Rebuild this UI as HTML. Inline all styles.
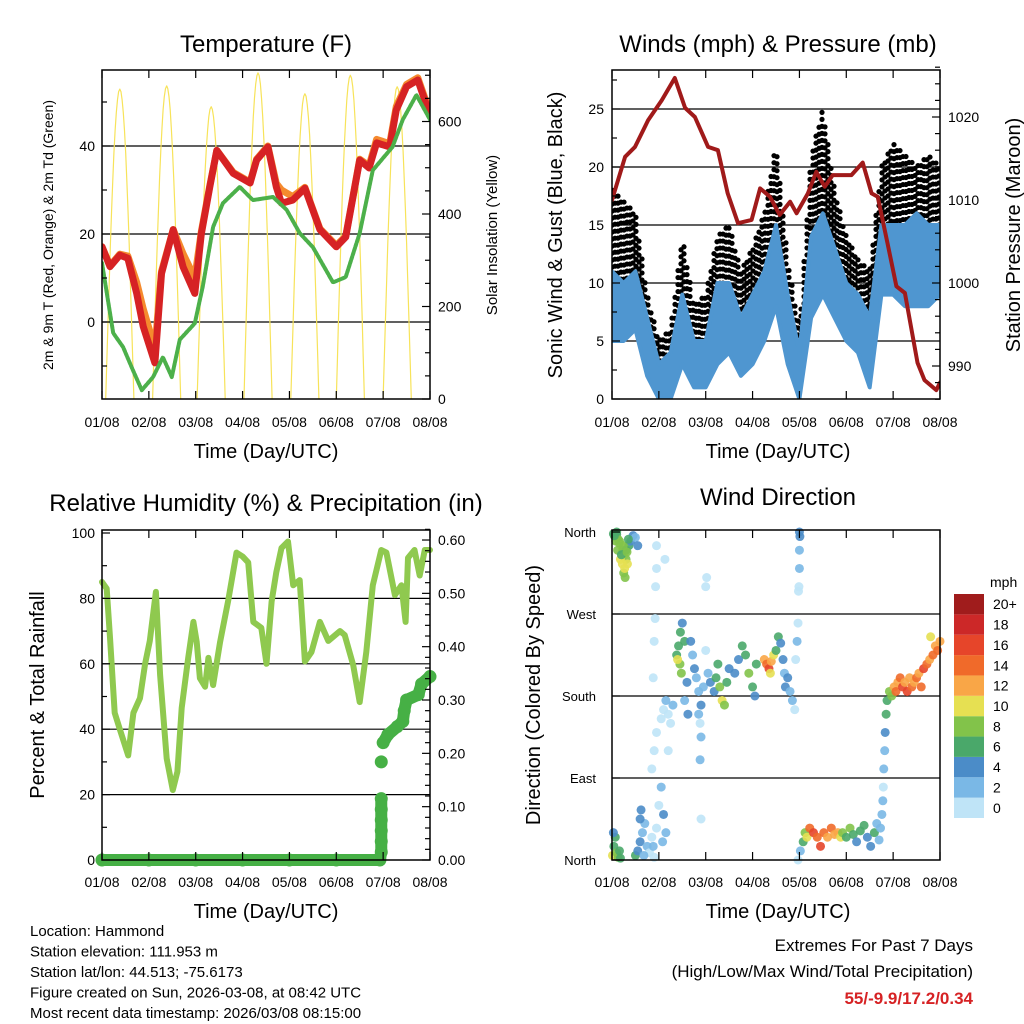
<!DOCTYPE html>
<html><head><meta charset="utf-8"><style>
html,body{margin:0;padding:0;background:#fff;}
svg{display:block;font-family:"Liberation Sans",sans-serif;}
</style></head><body>
<svg id="fig" width="1024" height="1024" viewBox="0 0 1024 1024"></svg>
<script>
// ---------- DATA ----------
const tDays=[0,0.17,0.38,0.55,0.74,0.88,1.13,1.27,1.52,1.73,1.98,2.12,2.3,2.45,2.8,3.16,3.3,3.54,3.72,3.83,4.07,4.33,4.65,5.0,5.2,5.5,5.7,5.86,6.14,6.28,6.5,6.74,7.0];
const tRed=[17.1,12.6,15.2,14.5,6.5,-1,-9.3,11,21,12.5,6.5,20,30.7,39,33.8,31.6,36.8,39.8,30.7,27,27.7,30.4,21,17.1,19.3,36.8,35,40.7,39.8,48.2,53.5,55,47];
const tOrange=[17.1,12.8,15.4,15,9,3,-6,11.5,21,15.5,10,20.5,31,39,34,31.8,37,40,31.5,30,28.5,30.6,21.2,17.4,19.5,37,35.5,41.5,40.5,49,54,55.5,47.5];
const tdDays=[0,0.24,0.45,0.63,0.85,1.09,1.3,1.49,1.66,1.98,2.15,2.37,2.58,2.94,3.22,3.65,3.94,4.22,4.5,4.93,5.2,5.5,5.78,6.2,6.42,6.71,7.0];
const tDew=[13.4,-2.5,-5.7,-10.2,-15.5,-12.5,-8,-12.5,-4,-0.3,8,21.6,27,30.7,27.7,28.4,25.5,20.2,17,9,10.2,20.2,34.5,39.8,46,51.6,46];
const solarPeakDay=[0.38,1.38,2.33,3.33,4.33,5.3,6.3];
const solarPeakVal=[670,677,632,705,660,700,675];
const windDays=[0,0.25,0.5,0.75,1,1.25,1.5,1.75,2,2.25,2.5,2.75,3,3.25,3.5,3.75,4,4.25,4.5,4.75,5,5.25,5.5,5.75,6,6.25,6.5,6.75,7];
const windLo=[5,5,6,2,0,0,3,1,1,3,4,2,3,5,8,3,0,7,9,7,5,4,1,9,9,8,8,8,9];
const windHi=[11,10,11,7,3,4,9,5,5,10,10,7,9,11,15,9,4,14,16,13,10,9,7,15,15,15,16,15,15];
const gustLo=[8,10,9,3,1,2,6,3,3,6,7,4,6,8,12,5,1,11,14,10,8,6,3,13,13,13,12,12,13];
const gustHi=[18,17,16,9,5,6,14,8,9,14,15,11,13,16,22,12,6,21,25,18,14,12,11,20,22,21,20,21,20];
const presDays=[0,0.28,0.49,0.77,1.06,1.34,1.56,1.77,2.05,2.26,2.47,2.69,2.98,3.16,3.37,3.58,3.8,3.94,4.18,4.36,4.54,4.71,5.11,5.35,5.54,5.67,5.88,6.07,6.25,6.52,6.67,6.92,7.0];
const presVal=[1010,1015.2,1016.4,1019.6,1022,1024.7,1021.1,1020,1016.4,1016,1010.8,1007.2,1007.6,1011.4,1010.4,1008.2,1009.8,1008.4,1010.8,1013.4,1011.6,1013,1013,1014.5,1010.8,1010.4,1004.8,999.6,998.8,990.4,988.3,987.1,988];
const rhDays=[0,0.1,0.17,0.27,0.38,0.56,0.67,0.81,0.92,1.02,1.15,1.24,1.38,1.51,1.61,1.7,1.84,1.95,2.02,2.09,2.2,2.27,2.37,2.52,2.69,2.87,3.0,3.12,3.23,3.4,3.51,3.62,3.72,3.83,3.97,4.08,4.22,4.33,4.47,4.65,4.83,5.08,5.18,5.36,5.5,5.64,5.78,5.96,6.07,6.25,6.39,6.48,6.53,6.67,6.78,6.89,7.0];
const rhVal=[85,83,68,45,40,32,45,49.5,60,67,82,56.6,31,21.4,27,46.5,61.8,72.8,66.7,55.6,53,61.8,53.5,66.7,79,94,92.8,91,72.8,71,60,79,88,95.4,97.4,84,85.6,60.7,63.6,72.8,67,70,68.8,59.6,48.3,63.6,84,94.8,94,81,84,72.8,92.4,94.8,87,94.8,94.8];
const precipDays=[0,1,2,3,4,5,5.93,5.96,5.96,5.96,5.96,5.96,5.96,5.96,6.0,6.1,6.3,6.42,6.45,6.5,6.75,6.82,7.0];
const precipVal=[0,0,0,0,0,0,0,0.015,0.035,0.055,0.075,0.095,0.115,0.184,0.22,0.235,0.25,0.26,0.28,0.3,0.31,0.33,0.344];
const dirDays=[0.03,0.06,0.1,0.13,0.16,0.2,0.23,0.26,0.3,0.33,0.36,0.4,0.45,0.5,0.25,0.28,0.22,0.3,0.27,0.1,0.55,0.08,0.12,0.18,0.2,0.24,0.32,0.35,0.15,0.05,
0.01,0.04,0.07,0.1,0.13,0.16,0.03,0.18,
0.5,0.55,0.6,0.65,0.7,0.75,0.8,0.85,0.9,0.95,1.0,1.05,1.1,1.15,0.68,0.88,1.08,0.6,0.62,
0.85,0.9,0.95,1.05,1.1,1.15,1.2,1.25,0.88,0.9,0.92,0.93,0.95,0.95,1.13,1.2,1.3,
1.38,1.42,1.46,1.5,1.55,1.45,1.48,1.6,1.55,1.62,1.4,
1.68,1.72,1.76,1.8,1.85,1.9,1.95,1.85,1.88,1.9,1.88,1.9,2.0,2.0,2.02,2.05,2.1,
2.18,2.22,2.26,2.3,2.35,2.4,2.45,2.5,
2.62,2.7,2.78,2.85,2.92,3.0,3.05,3.08,
3.25,3.3,3.35,3.4,3.45,3.38,
3.5,3.55,3.6,3.65,3.68,3.7,
3.75,3.8,3.85,3.9,3.92,3.95,3.97,3.98,4.0,4.0,4.01,3.99,4.0,
3.97,4.02,4.08,4.12,4.16,
4.22,4.3,4.38,4.45,4.52,4.6,4.68,4.75,4.82,4.88,
4.92,5.0,5.08,5.15,5.22,5.3,5.38,5.45,5.52,5.6,5.65,5.7,5.73,
5.76,5.78,5.79,5.8,5.82,5.83,5.85,
5.87,5.92,5.97,6.02,6.06,6.1,
6.15,6.2,6.25,6.3,6.35,6.4,6.45,6.5,6.55,6.6,6.65,
6.72,6.78,6.85,6.9,6.95,7.0,6.8];
const dirDeg=[358,355,357,352,350,345,340,335,330,325,345,350,356,354,315,310,325,340,320,360,345,350,340,330,335,345,338,352,348,356,
5,15,25,8,3,10,30,2,
5,10,20,30,40,15,8,25,3,35,60,80,50,30,5,15,20,45,55,
100,120,140,155,165,175,160,150,200,240,265,300,320,345,330,120,170,
225,235,250,260,240,215,205,195,175,160,220,
240,225,210,200,185,170,190,160,150,135,110,45,230,300,310,205,195,
185,200,215,190,175,170,195,210,
205,220,235,225,205,190,180,215,
220,215,210,218,225,205,
230,245,238,220,205,190,
200,185,175,165,220,240,260,295,320,340,355,300,360,
0,10,20,30,25,
35,30,25,15,30,25,35,28,30,25,
30,25,35,28,20,32,38,25,15,30,40,22,35,
50,65,80,100,120,140,160,
175,185,180,190,185,195,
200,190,195,185,200,190,195,200,205,190,210,
215,220,225,235,230,240,245];
const dirSpeed=[7,8,6,9,8,10,9,10,8,10,7,5,4,3,9,8,10,6,10,7,4,8,9,10,7,8,9,6,8,7,
10,7,6,8,9,7,5,6,
6,4,4,3,3,2,1,1,0,1,1,2,4,3,3,2,3,4,4,
1,1,0,1,1,2,1,1,1,1,1,0,1,1,0,0,2,
7,6,7,5,6,8,9,4,3,4,10,
4,3,4,2,3,4,3,2,1,2,2,1,1,1,0,3,4,
5,7,6,9,10,8,6,5,
4,5,7,6,8,7,4,6,
12,14,16,13,11,10,
6,7,5,4,3,4,
4,2,3,1,1,2,1,1,3,3,4,0,4,
0,3,6,9,10,
14,16,14,17,14,12,14,13,12,10,
8,7,8,6,5,6,7,5,4,6,3,2,2,
2,3,1,3,3,4,6,
7,8,9,12,14,12,
14,16,13,17,12,14,12,14,13,15,16,
14,13,14,12,14,13,10];
const dayLabels=["01/08","02/08","03/08","04/08","05/08","06/08","07/08","08/08"];
const speedLabels=["0","2","4","6","8","10","12","14","16","18","20+"];
const speedColors=["#bfe4f7","#7ab8e6","#4b8cc8","#4aa86a","#82c34a","#e6e052","#f9a647","#f06a2a","#e6452a","#cc2828","#a01c1c"];

// ---------- AXES ----------
const NS="http://www.w3.org/2000/svg";
const svg=document.getElementById('fig');
function mk(tag,attrs,parent){const e=document.createElementNS(NS,tag);for(const k in attrs)e.setAttribute(k,attrs[k]);(parent||svg).appendChild(e);return e;}
const xL=d=>102+d*328/7, xR=d=>612+d*328/7;
const tY=v=>322-v*4.4, solY=v=>399-v*0.4625;
const wY=v=>399-v*11.6, pY=p=>283-(p-1000)*8.3;
const rhY=v=>860-v*3.27, prY=v=>860-v*533.3;
const dY=v=>860-v*328/360;
function interp(xs,ys,d){for(let i=1;i<xs.length;i++){if(d<=xs[i]){const f=(d-xs[i-1])/(xs[i]-xs[i-1]);return ys[i-1]+f*(ys[i]-ys[i-1]);}}return ys[ys.length-1];}

function panel(name){
  const g=mk('g',{});
  
  
  return g;
}
function txt(g,x,y,s,size,anchor,extra){
  const t=mk('text',Object.assign({x:x,y:y,'font-size':size,'text-anchor':anchor||'middle',fill:'#000'},extra||{}),g);
  t.textContent=s;return t;
}
function frame(g,x0,y0,x1,y1){
  const r=mk('rect',{x:x0,y:y0,width:x1-x0,height:y1-y0,fill:'none',stroke:'#000','stroke-width':1.5},g);
  
  
}
function grid(g,x0,x1,y){const l=mk('line',{x1:x0,x2:x1,y1:y,y2:y,stroke:'#000','stroke-width':1.2},g);
  
  }
function tickL(g,x,y,len){const l=mk('line',{x1:x,x2:x+len,y1:y,y2:y,stroke:'#000','stroke-width':1.2},g);
  
  }
function xticks(g,xf,y0,y1,labY){
  for(let i=0;i<8;i++){
    const x=xf(i);
    const a=mk('line',{x1:x,x2:x,y1:y1,y2:y1-8,stroke:'#000','stroke-width':1.2},g);
    
    
    const b=mk('line',{x1:x,x2:x,y1:y0,y2:y0+8,stroke:'#000','stroke-width':1.2},g);
    
    
    const t=txt(g,x,labY,dayLabels[i],14);
    
    
  }
}
function poly(g,pts,stroke,w,extra){
  return mk('polyline',Object.assign({points:pts.map(q=>q[0].toFixed(1)+','+q[1].toFixed(1)).join(' '),fill:'none',stroke:stroke,'stroke-width':w,'stroke-linejoin':'round','stroke-linecap':'round'},extra||{}),g);
}

// ===== Panel 1: Temperature =====
const g1=panel('temperature-panel');
const clip1=mk('clipPath',{id:'c1'});mk('rect',{x:102,y:70,width:328,height:329},clip1);
for(const v of [0,20,40])grid(g1,102,430,tY(v));
const sg=mk('g',{'clip-path':'url(#c1)'},g1);
for(let i=0;i<solarPeakDay.length;i++){
  const pts=[];const c=solarPeakDay[i],h=0.3;
  for(let k=0;k<=24;k++){const d=c-h+2*h*k/24;pts.push([xL(d),solY(solarPeakVal[i]*Math.sin(Math.PI*k/24))]);}
  const p=poly(sg,pts,'#f7e35a',1.2);
  
  
}
const po=poly(sg,tDays.map((d,i)=>[xL(d),tY(tOrange[i])]),'#f58a2e',7);


const pr=poly(sg,tDays.map((d,i)=>[xL(d),tY(tRed[i])]),'#d62224',7);


const pg=poly(sg,tdDays.map((d,i)=>[xL(d),tY(tDew[i])]),'#4cb04a',4,{'stroke-dasharray':'3 1.5'});


frame(g1,102,70,430,399);
for(let v=-10;v<=50;v+=10){tickL(g1,102,tY(v),v%20===0?8:5);}
for(const v of [0,20,40]){const t=txt(g1,95,tY(v)+5,String(v),14,'end');
  
  }
for(let v=0;v<=700;v+=50){tickL(g1,430,solY(v),v%200===0?-8:-5);}
for(const v of [0,200,400,600]){const t=txt(g1,438,solY(v)+5,String(v),14,'start');
  
  }
xticks(g1,xL,70,399,427);
let t;
t=txt(g1,266,52,'Temperature (F)',24);


t=txt(g1,266,458,'Time (Day/UTC)',20);


t=txt(g1,0,0,'2m & 9m T (Red, Orange) & 2m Td (Green)',14,'middle',{transform:'translate(53,235) rotate(-90)'});


t=txt(g1,0,0,'Solar Insolation (Yellow)',15,'middle',{transform:'translate(497,235) rotate(-90)'});



// ===== Panel 2: Winds =====
const g2=panel('winds-panel');
const clip2=mk('clipPath',{id:'c2'});mk('rect',{x:612,y:70,width:328,height:329},clip2);
for(const v of [5,10,15,20,25])grid(g2,612,940,wY(v));
const wg=mk('g',{'clip-path':'url(#c2)'},g2);
// gust speckle: dots filling the gust range of each time slice
const gd=mk('g',{fill:'#000'},wg);


for(let col=0;col*3<=328;col++){
  const d=col*3*7/328;
  const lo=interp(windDays,gustLo,d),hi=interp(windDays,gustHi,d);
  const yTop=wY(hi),yBot=wY(lo);
  const off=(col%2)*3;
  for(let y=yTop+off;y<=yBot;y+=7){
    const c=mk('circle',{cx:xR(d),cy:y,r:2.6},gd);
    
    
  }
}
const bpts=windDays.map((d,i)=>[xR(d),wY(windHi[i])]).concat(windDays.map((d,i)=>[xR(d),wY(windLo[i])]).reverse());
const bb=mk('polygon',{points:bpts.map(q=>q[0].toFixed(1)+','+q[1].toFixed(1)).join(' '),fill:'#4f96d0',stroke:'#4f96d0','stroke-width':4,'stroke-linejoin':'round'},wg);


const pp=poly(wg,presDays.map((d,i)=>[xR(d),pY(presVal[i])]),'#a01a1a',4);


frame(g2,612,70,940,399);
for(let v=0;v<=27.5;v+=2.5){tickL(g2,612,wY(v),v%5===0?8:5);}
for(const v of [0,5,10,15,20,25]){const t=txt(g2,604,wY(v)+5,String(v),14,'end');
  
  }
for(let p=986;p<=1026;p+=2){tickL(g2,940,pY(p),p%10===0?-8:-5);}
for(const p of [990,1000,1010,1020]){const t=txt(g2,948,pY(p)+5,String(p),14,'start');
  
  }
xticks(g2,xR,70,399,427);
t=txt(g2,778,52,'Winds (mph) & Pressure (mb)',24);


t=txt(g2,778,458,'Time (Day/UTC)',20);


t=txt(g2,0,0,'Sonic Wind & Gust (Blue, Black)',20,'middle',{transform:'translate(562,235) rotate(-90)'});


t=txt(g2,0,0,'Station Pressure (Maroon)',20,'middle',{transform:'translate(1020,235) rotate(-90)'});



// ===== Panel 3: RH & Precip =====
const g3=panel('humidity-precip-panel');
for(const v of [20,40,60,80])grid(g3,102,430,rhY(v));
const prl=mk('g',{},g3);
for(let i=1;i<precipDays.length;i++){
  if(Math.abs(precipVal[i]-precipVal[i-1])<0.03){
    const l=mk('line',{x1:xL(precipDays[i-1]),y1:prY(precipVal[i-1]),x2:xL(precipDays[i]),y2:prY(precipVal[i]),stroke:'#46b045','stroke-width':12,'stroke-linecap':'round'},prl);
    
    
  }
}
for(let i=0;i<precipDays.length;i++){
  const c=mk('circle',{cx:xL(precipDays[i]),cy:prY(precipVal[i]),r:6.5,fill:'#46b045'},prl);
  
  
}
const prh=poly(g3,rhDays.map((d,i)=>[xL(d),rhY(rhVal[i])]),'#8fc94f',6);


frame(g3,102,530,430,860);
for(let v=0;v<=100;v+=10){tickL(g3,102,rhY(v),v%20===0?8:5);}
for(let v=0;v<=100;v+=20){const t=txt(g3,95,rhY(v)+5,String(v),14,'end');
  
  }
for(let k=0;k<=31;k++){const v=k*0.02;tickL(g3,430,prY(v),k%5===0?-8:-5);}
for(let k=0;k<=6;k++){const t=txt(g3,438,prY(k*0.1)+5,(k*0.1).toFixed(2),14,'start');
  
  }
xticks(g3,xL,530,860,887);
t=txt(g3,266,511,'Relative Humidity (%) & Precipitation (in)',24);


t=txt(g3,266,918,'Time (Day/UTC)',20);


t=txt(g3,0,0,'Percent & Total Rainfall',20,'middle',{transform:'translate(44,695) rotate(-90)'});



// ===== Panel 4: Wind Direction =====
const g4=panel('wind-direction-panel');
for(const v of [90,180,270])grid(g4,612,940,dY(v));
const dg=mk('g',{'fill-opacity':0.9},g4);
for(let i=0;i<dirDays.length;i++){
  const ci=Math.min(10,Math.floor(dirSpeed[i]/2));
  const c=mk('circle',{cx:xR(dirDays[i]),cy:dY(dirDeg[i]),r:4.5,fill:speedColors[ci]},dg);
  
  
}
frame(g4,612,530,940,860);
const dirNames=['North','East','South','West','North'];
for(let k=0;k<5;k++){tickL(g4,612,dY(k*90),8);
  const t=txt(g4,596,dY(k*90)+5,dirNames[k],13,'end');
  
  }
xticks(g4,xR,530,860,887);
t=txt(g4,778,505,'Wind Direction',24);


t=txt(g4,778,918,'Time (Day/UTC)',20);


t=txt(g4,0,0,'Direction (Colored By Speed)',20,'middle',{transform:'translate(540,695) rotate(-90)'});


const cb=mk('g',{},g4);


const bh=224/11;
for(let k=0;k<11;k++){
  const y=818-(k+1)*bh;
  const r=mk('rect',{x:954,y:y,width:30,height:bh,fill:speedColors[k]},cb);
  
  
  const lt=txt(cb,993,y+bh/2+5,speedLabels[k],14,'start');
  
  
}
t=txt(cb,990,587,'mph',14,'start');



// ===== Footer =====
const info=['Location: Hammond','Station elevation: 111.953 m','Station lat/lon: 44.513; -75.6173','Figure created on Sun, 2026-03-08, at 08:42 UTC','Most recent data timestamp: 2026/03/08 08:15:00'];
for(let k=0;k<info.length;k++){const t=txt(svg,30,936+k*20.5,info[k],15,'start');
  
  }
t=txt(svg,973,951,'Extremes For Past 7 Days',17,'end');


t=txt(svg,973,977,'(High/Low/Max Wind/Total Precipitation)',17,'end');


t=txt(svg,973,1004,'55/-9.9/17.2/0.34',17,'end',{fill:'#d62224','font-weight':'bold'});


</script>
</body></html>
